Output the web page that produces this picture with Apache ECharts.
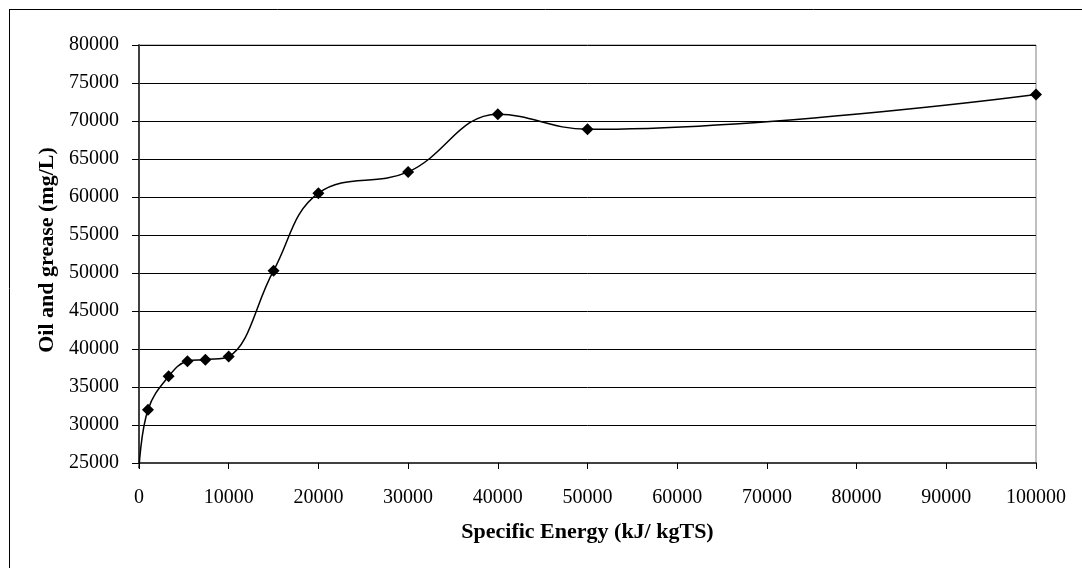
<!DOCTYPE html>
<html>
<head>
<meta charset="utf-8">
<script src="https://cdn.jsdelivr.net/npm/echarts@6/dist/echarts.min.js"></script>
<style>
html,body{margin:0;padding:0;background:#fff;}
#chart{width:1082px;height:568px;}
</style>
</head>
<body>
<div id="chart"></div>
<script>
const energy = [0, 1000, 3300, 5400, 7400, 10000, 15000, 20000, 30000, 40000, 50000, 100000];
const oilGrease = [24300, 32000, 36400, 38400, 38600, 39000, 50300, 60500, 63300, 70900, 68900, 73500];
const markerShown = [false, true, true, true, true, true, true, true, true, true, true, true];
const xTitle = 'Specific Energy (kJ/ kgTS)';
const yTitle = 'Oil and grease (mg/L)';

const chart = echarts.init(document.getElementById('chart'), null, {renderer: 'canvas'});
const font = '"Liberation Serif", "DejaVu Serif", serif';
const seriesData = energy.map((x, i) => markerShown[i]
  ? {value: [x, oilGrease[i]]}
  : {value: [x, oilGrease[i]], symbol: 'none'});

chart.setOption({
  animation: false,
  backgroundColor: '#ffffff',
  graphic: [
    {type: 'line', shape: {x1: 9, y1: 9.5, x2: 1082, y2: 9.5}, style: {stroke: '#000', lineWidth: 1}},
    {type: 'line', shape: {x1: 9.5, y1: 9, x2: 9.5, y2: 568}, style: {stroke: '#000', lineWidth: 1}},
    {type: 'text', rotation: Math.PI / 2, x: 47, y: 250,
     style: {text: yTitle, font: 'bold 22px ' + font, fill: '#000', textAlign: 'center', textVerticalAlign: 'middle'}}
  ],
  grid: {left: 139, top: 45, right: 46, bottom: 105, show: true, borderColor: '#808080', borderWidth: 1, backgroundColor: 'transparent'},
  xAxis: {
    type: 'value', min: 0, max: 100000, interval: 10000,
    name: xTitle, nameLocation: 'middle', nameGap: 58,
    nameTextStyle: {fontFamily: font, fontWeight: 'bold', fontSize: 22, color: '#000'},
    axisLine: {show: true, lineStyle: {color: '#404040', width: 2}},
    axisTick: {show: true, inside: false, length: 6, lineStyle: {color: '#000', width: 1}},
    axisLabel: {fontFamily: font, fontSize: 20, color: '#000', margin: 25, formatter: v => String(v)},
    splitLine: {show: false}
  },
  yAxis: {
    type: 'value', min: 25000, max: 80000, interval: 5000,
    axisLine: {show: true, lineStyle: {color: '#404040', width: 2}},
    axisTick: {show: true, inside: false, length: 7, lineStyle: {color: '#000', width: 1}},
    axisLabel: {fontFamily: font, fontSize: 20, color: '#000', margin: 20, formatter: v => String(v)},
    splitLine: {show: true, lineStyle: {color: '#000', width: 1}}
  },
  series: [{
    type: 'line',
    data: seriesData,
    smooth: 0.4,
    clip: false,
    symbol: 'diamond',
    symbolSize: 12,
    itemStyle: {color: '#000'},
    lineStyle: {color: '#000', width: 1.5}
  }]
});
</script>
</body>
</html>
